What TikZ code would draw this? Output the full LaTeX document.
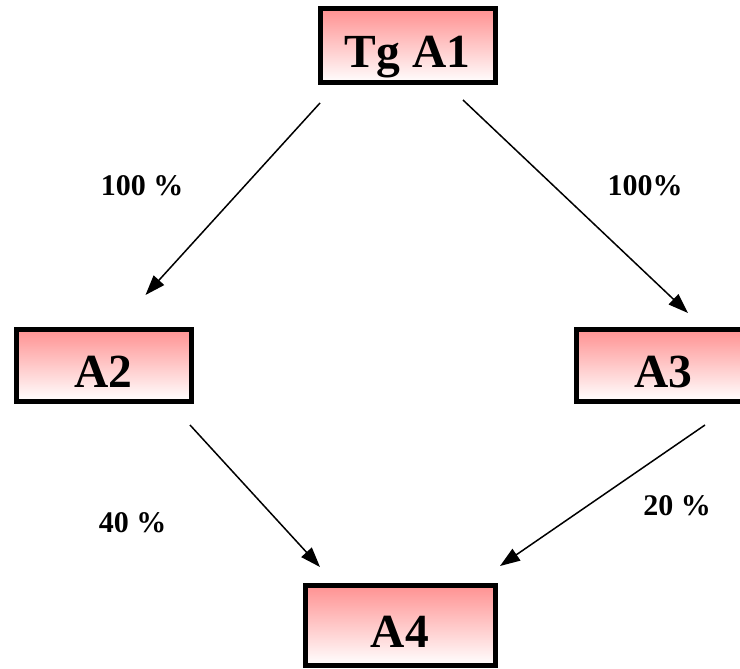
\documentclass[tikz,border=0pt]{standalone}
\usepackage{fontspec}
\setmainfont{Liberation Serif}
\usetikzlibrary{arrows.meta,shadows}
\definecolor{boxpink}{RGB}{255,145,145}
\begin{document}
\begin{tikzpicture}[x=1pt,y=-1pt,
  >={Triangle[length=20pt,width=14pt]},
  box/.style={draw,line width=5pt,outer sep=0pt,minimum height=74pt,
    top color=boxpink,bottom color=white,
    drop shadow={shadow xshift=1pt,shadow yshift=-2.5pt,fill=gray!60,opacity=1},
    font=\fontsize{47.5}{52}\selectfont\bfseries,text height=44pt,text depth=0pt},
  pct/.style={anchor=base,font=\fontsize{30}{34}\selectfont\bfseries},
  link/.style={->,line width=1.5pt}]
\useasboundingbox (0,0) rectangle (740,669);
\node [box,minimum width=175pt] (a1) at (407.5,46) {Tg A1};
\node [box,minimum width=175pt,minimum height=72pt] (a2) at (103.5,365) {A2};
\node [box,minimum width=175pt,minimum height=72pt] (a3) at (663.5,365) {A3};
\node [box,minimum width=190pt,minimum height=80pt] (a4) at (400,625) {A4};
\node [pct] (p12) at (142,195) {100 \%};
\node [pct] (p13) at (645,195) {100\%};
\node [pct] (p24) at (132.5,532) {40 \%};
\node [pct] (p34) at (677,515) {20 \%};
\draw [link] ([yshift=-20pt]a1.south west) -- ([xshift=42pt,yshift=34pt]a2.north);
\draw [link] ([xshift=-32pt,yshift=-17pt]a1.south east) -- ([xshift=24.5pt,yshift=16pt]a3.north);
\draw [link] ([xshift=-1pt,yshift=-24pt]a2.south east) -- ([xshift=15pt,yshift=18pt]a4.north west);
\draw [link] ([xshift=-46pt,yshift=-24pt]a3.south east) -- ([xshift=5pt,yshift=19pt]a4.north east);
\end{tikzpicture}
\end{document}
